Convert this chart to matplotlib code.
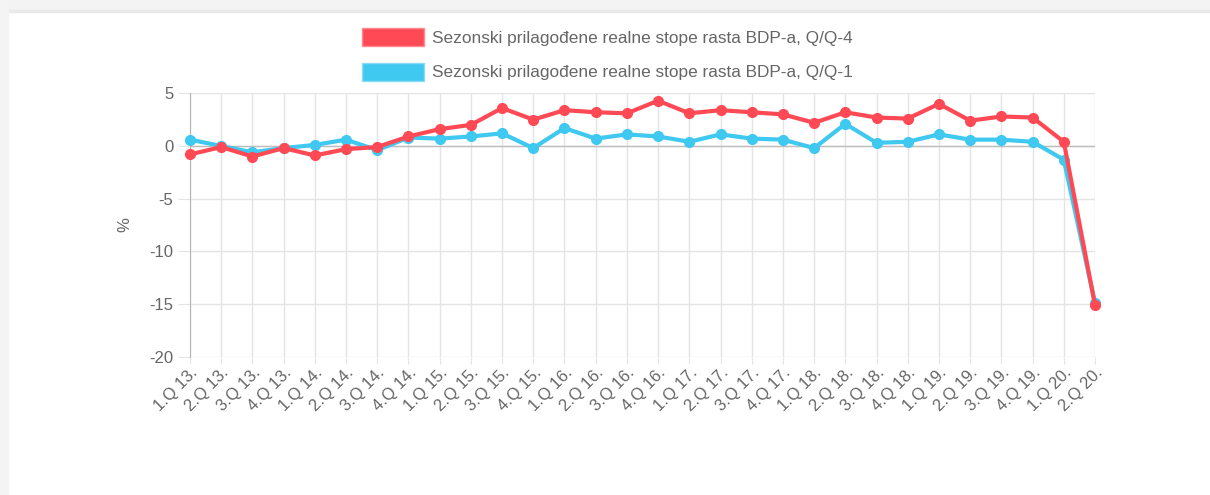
import matplotlib
matplotlib.use('Agg')
import matplotlib.pyplot as plt
from matplotlib.patches import Patch, Rectangle

plt.rcParams['font.family'] = ['Liberation Sans', 'DejaVu Sans']
plt.rcParams['axes.unicode_minus'] = False

# quarters 1.Q 13. .. 2.Q 20.
quarters = [f'{q}.Q {y}.' for y in range(13, 21) for q in range(1, 5)][:30]

# Sezonski prilagodjene realne stope rasta BDP-a
yoy = [-0.8, -0.1, -1.0, -0.2, -0.9, -0.3, -0.1, 0.9, 1.6, 2.0,
       3.6, 2.5, 3.4, 3.2, 3.1, 4.3, 3.1, 3.4, 3.2, 3.0,
       2.2, 3.2, 2.7, 2.6, 4.0, 2.4, 2.8, 2.7, 0.4, -15.1]
qoq = [0.6, 0.0, -0.6, -0.2, 0.1, 0.6, -0.4, 0.8, 0.7, 0.9,
       1.2, -0.2, 1.7, 0.7, 1.1, 0.9, 0.4, 1.1, 0.7, 0.6,
       -0.2, 2.1, 0.3, 0.4, 1.1, 0.6, 0.6, 0.4, -1.3, -14.9]
labels = ['Sezonski prilagođene realne stope rasta BDP-a, Q/Q-4',
          'Sezonski prilagođene realne stope rasta BDP-a, Q/Q-1']

red = '#ff4a55'
blue = '#3fc8f0'
txt = '#666666'

W, H = 1210, 495
fig = plt.figure(figsize=(W / 100, H / 100), dpi=100)
fig.patch.set_facecolor('white')

# card frame
fig.patches.append(Rectangle((0, 1 - 11 / H), 1, 11 / H, transform=fig.transFigure,
                             color='#f3f3f3', zorder=0))
fig.patches.append(Rectangle((0, 1 - 12 / H), 1, 1.5 / H, transform=fig.transFigure,
                             color='#e9e9e9', zorder=0))
fig.patches.append(Rectangle((0, 0), 8 / W, 1, transform=fig.transFigure,
                             color='#f4f4f4', zorder=0))

ax = fig.add_axes([190 / W, 1 - 356.7 / H, 905 / W, (356.7 - 93.3) / H])

x = list(range(len(quarters)))
ax.plot(x, qoq, color=blue, lw=3, marker='o', ms=7, zorder=3, clip_on=False)
ax.plot(x, yoy, color=red, lw=3, marker='o', ms=7, zorder=4, clip_on=False)

ax.set_xlim(0, len(quarters) - 1)
ax.set_ylim(-20, 5)
ax.set_yticks([5, 0, -5, -10, -15, -20])
ax.set_xticks(x)
ax.set_xticklabels(quarters, rotation=45, ha='right', va='top', rotation_mode='anchor')

ax.grid(True, color='#e4e4e4', lw=1)
ax.axhline(0, color='#bdbdbd', lw=1, zorder=1)
for s in ['top', 'right', 'bottom']:
    ax.spines[s].set_visible(False)
ax.spines['left'].set_color('#b5b5b5')
ax.set_axisbelow(True)

ax.tick_params(axis='y', length=9, color='#e4e4e4', labelsize=12, labelcolor=txt, pad=3)
ax.tick_params(axis='x', length=5, color='#e4e4e4', labelsize=12, labelcolor=txt, pad=1)

ax.set_ylabel('%', fontsize=12, color=txt)
ax.yaxis.set_label_coords(-0.064, 0.5)

handles = [Patch(facecolor=red, edgecolor='#ff8a90', lw=1),
           Patch(facecolor=blue, edgecolor='#8ddcf5', lw=1)]
fig.legend(handles, labels, loc='upper left', bbox_to_anchor=(362 / W, 1 - 28 / H),
           frameon=False, fontsize=12.4, labelcolor=txt, borderpad=0, borderaxespad=0,
           handlelength=3.6, handleheight=1.25, handletextpad=0.45, labelspacing=0.95)

plt.savefig('out.png', dpi=100)
